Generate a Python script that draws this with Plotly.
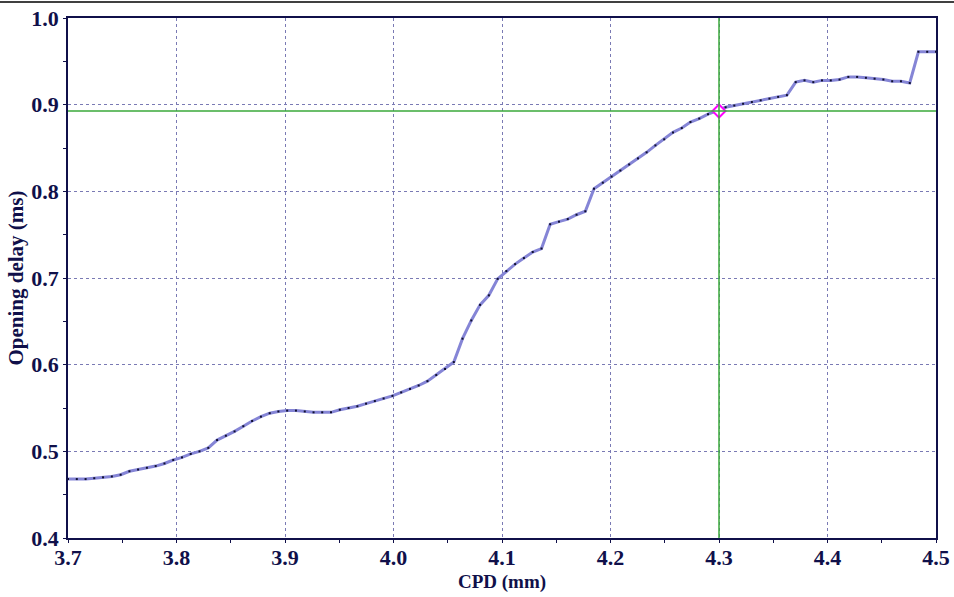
import plotly.graph_objects as go

# CPD sample positions (mm)
cpd_mm = [
    3.7000, 3.7081, 3.7162, 3.7242, 3.7323, 3.7404, 3.7485, 3.7566, 3.7646, 3.7727,
    3.7808, 3.7889, 3.7970, 3.8051, 3.8131, 3.8212, 3.8293, 3.8374, 3.8455, 3.8535,
    3.8616, 3.8697, 3.8778, 3.8859, 3.8939, 3.9020, 3.9101, 3.9182, 3.9263, 3.9343,
    3.9424, 3.9505, 3.9586, 3.9667, 3.9747, 3.9828, 3.9909, 3.9990, 4.0071, 4.0152,
    4.0232, 4.0313, 4.0394, 4.0475, 4.0556, 4.0636, 4.0717, 4.0798, 4.0879, 4.0960,
    4.1040, 4.1121, 4.1202, 4.1283, 4.1364, 4.1444, 4.1525, 4.1606, 4.1687, 4.1768,
    4.1848, 4.1929, 4.2010, 4.2091, 4.2172, 4.2253, 4.2333, 4.2414, 4.2495, 4.2576,
    4.2657, 4.2737, 4.2818, 4.2899, 4.2980, 4.3061, 4.3141, 4.3222, 4.3303, 4.3384,
    4.3465, 4.3545, 4.3626, 4.3707, 4.3788, 4.3869, 4.3949, 4.4030, 4.4111, 4.4192,
    4.4273, 4.4354, 4.4434, 4.4515, 4.4596, 4.4677, 4.4758, 4.4838, 4.4919, 4.5000,
]

# Opening delay (ms) at each CPD sample
opening_delay_ms = [
    0.468, 0.468, 0.468, 0.469, 0.470, 0.471, 0.473, 0.477, 0.479, 0.481,
    0.483, 0.486, 0.490, 0.493, 0.497, 0.500, 0.504, 0.513, 0.518, 0.523,
    0.529, 0.535, 0.540, 0.544, 0.546, 0.547, 0.547, 0.546, 0.545, 0.545,
    0.545, 0.548, 0.550, 0.552, 0.555, 0.558, 0.561, 0.564, 0.568, 0.572,
    0.576, 0.581, 0.588, 0.595, 0.603, 0.630, 0.651, 0.669, 0.680, 0.699,
    0.708, 0.716, 0.723, 0.730, 0.734, 0.762, 0.765, 0.768, 0.773, 0.777,
    0.803, 0.810, 0.817, 0.824, 0.831, 0.838, 0.845, 0.853, 0.860, 0.868,
    0.873, 0.880, 0.884, 0.889, 0.893, 0.897, 0.899, 0.901, 0.903, 0.905,
    0.907, 0.909, 0.911, 0.926, 0.928, 0.926, 0.928, 0.928, 0.929, 0.932,
    0.932, 0.931, 0.930, 0.929, 0.927, 0.927, 0.925, 0.961, 0.961, 0.961,
]

# Cursor position
cursor_cpd = 4.3
cursor_delay = 0.8927

x_ticks = [3.7, 3.8, 3.9, 4.0, 4.1, 4.2, 4.3, 4.4, 4.5]
y_ticks = [0.4, 0.5, 0.6, 0.7, 0.8, 0.9, 1.0]

NAVY = "#10104a"
GRID = "#7a7ab4"
GREEN = "#3aa83a"
SERIF = "Liberation Serif, Times New Roman, Times, serif"

fig = go.Figure()

# Curve
fig.add_trace(go.Scatter(
    x=cpd_mm, y=opening_delay_ms, mode="lines",
    line=dict(color="#8585d6", width=3),
    hoverinfo="skip", showlegend=False,
))
# Sample dots
fig.add_trace(go.Scatter(
    x=cpd_mm, y=opening_delay_ms, mode="markers",
    marker=dict(color="#101030", size=2, symbol="square"),
    showlegend=False,
))

# Cursor crosshair
fig.add_shape(type="line", xref="x", yref="paper", x0=cursor_cpd, x1=cursor_cpd, y0=0, y1=1,
              line=dict(color=GREEN, width=1.5))
fig.add_shape(type="line", xref="paper", yref="y", x0=0, x1=1, y0=cursor_delay, y1=cursor_delay,
              line=dict(color=GREEN, width=1.5))
fig.add_trace(go.Scatter(
    x=[cursor_cpd], y=[cursor_delay], mode="markers",
    marker=dict(symbol="diamond", size=10, color="white",
                line=dict(color="#ff00ff", width=2)),
    showlegend=False,
))

# Frame line across the top of the window
fig.add_shape(type="line", xref="paper", yref="paper",
              x0=-68 / 868, x1=886 / 868, y0=1 + 16 / 520, y1=1 + 16 / 520,
              line=dict(color="black", width=1.5))

tick_font = dict(family=SERIF, size=22, color=NAVY, weight="bold")

fig.update_xaxes(
    range=[3.7, 4.5], tickvals=x_ticks, ticktext=[f"{v:.1f}" for v in x_ticks],
    showgrid=True, gridcolor=GRID, griddash="dot", gridwidth=1,
    showline=True, linecolor=NAVY, linewidth=1.5, mirror=True,
    ticks="outside", ticklen=3, tickcolor=NAVY, ticklabelstandoff=-4,
    minor=dict(dtick=0.05, ticks="outside", ticklen=3, tickcolor=NAVY, showgrid=False),
    tickfont=tick_font, zeroline=False, automargin=False,
    title=dict(text="CPD (mm)",
               font=dict(family=SERIF, size=19, color=NAVY, weight="bold"), standoff=6),
)
fig.update_yaxes(
    range=[0.4, 1.0], tickvals=y_ticks, ticktext=[f"{v:.1f}" for v in y_ticks],
    showgrid=True, gridcolor=GRID, griddash="dot", gridwidth=1,
    showline=True, linecolor=NAVY, linewidth=1.5, mirror=True,
    ticks="outside", ticklen=3, tickcolor=NAVY,
    minor=dict(dtick=0.05, ticks="outside", ticklen=3, tickcolor=NAVY, showgrid=False),
    tickfont=tick_font, zeroline=False, automargin=False,
    title=dict(text="Opening delay (ms)",
               font=dict(family=SERIF, size=21, color=NAVY, weight="bold"), standoff=2),
)

fig.update_layout(
    width=954, height=597,
    margin=dict(l=68, r=18, t=18, b=59),
    paper_bgcolor="white", plot_bgcolor="white",
    showlegend=False,
)

fig.write_html("out.html")
